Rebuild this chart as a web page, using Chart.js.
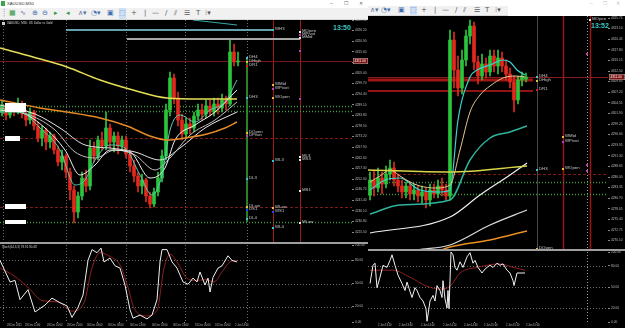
<!DOCTYPE html>
<html>
<head>
<meta charset="utf-8">
<title>XAUUSD,M30</title>
<script src="https://cdn.jsdelivr.net/npm/chart.js@4.4.1/dist/chart.umd.min.js"></script>
<style>
  html, body { margin: 0; padding: 0; background: #fff; }
  body { position: relative; width: 625px; height: 328px; overflow: hidden; font-family: 'Liberation Sans', 'DejaVu Sans', sans-serif; }
  canvas { position: absolute; display: block; background: #000; }
  .tools { position: absolute; background: #f1f1f1; border-bottom: 1px solid #d8d8d8; }
  .ic { position: absolute; top: 0; font-family: 'DejaVu Sans', sans-serif; font-size: 7px; color: #4b6ea8; }
  .txt { position: absolute; white-space: nowrap; }
  .sep { position: absolute; background: #9e9e9e; }
</style>
</head>
<body>

<!-- window chrome -->
<div class="txt" style="left:1px;top:1px;width:4px;height:5px;background:#3fa34d"></div>
<div class="txt" style="left:7px;top:0;font-size:4.2px;line-height:7px;color:#333">XAUUSD,M30</div>
<div class="txt" style="left:330px;top:0;font-size:5px;line-height:7px;color:#666">–</div>
<div class="txt" style="left:344px;top:0;font-size:5px;line-height:7px;color:#666">☐</div>
<div class="txt" style="left:359px;top:0;font-size:5px;line-height:7px;color:#666">✕</div>
<div class="txt" style="left:590px;top:0;font-size:5px;line-height:6px;color:#bbb">–</div>
<div class="txt" style="left:603px;top:0;font-size:5px;line-height:6px;color:#bbb">☐</div>
<div class="txt" style="left:616px;top:0;font-size:5px;line-height:6px;color:#bbb">✕</div>
<div class="tools" id="leftTools" style="left:0;top:8px;width:368px;height:11px"></div>
<div class="tools" id="rightTools" style="left:368px;top:6px;width:140px;height:9px"></div>

<canvas id="lMain" width="368" height="223" style="left:0;top:20px"></canvas>
<canvas id="lOsc" width="368" height="85" style="left:0;top:243px"></canvas>
<canvas id="rMain" width="257" height="235" style="left:368px;top:16px"></canvas>
<canvas id="rOsc" width="257" height="77" style="left:368px;top:251px"></canvas>

<div class="sep" style="left:0;top:242px;width:368px;height:2px"></div>
<div class="sep" style="left:368px;top:249px;width:257px;height:2px"></div>

<div class="txt" style="left:2px;top:22px;width:3px;height:3px;background:#ccc"></div>
<div class="txt" style="left:7px;top:21px;font-size:3px;line-height:5px;color:#d0d0d0">XAUUSD, M30: US Dollar vs Gold</div>
<div class="txt" style="left:2px;top:245px;font-size:3px;line-height:5px;color:#d0d0d0">Stoch(14,3,3) 78.91 80.48</div>
<div class="txt" style="left:333px;top:23px;font-size:7px;line-height:9px;font-weight:bold;color:#3cc8c8">13:50</div>
<div class="txt" style="left:591px;top:21px;font-size:7px;line-height:9px;font-weight:bold;color:#3cc8c8">13:52</div>

<script>
// ---------- left window: XAUUSD M30 ----------
const leftOpen  = [4285.5,4288.5,4284.0,4287.5,4285.5,4289.5,4284.5,4281.5,4285.5,4278.5,4272.5,4276.5,4270.5,4273.5,4266.5,4260.5,4263.5,4255.5,4246.5,4235.5,4243.5,4252.5,4248.5,4267.5,4263.5,4271.5,4268.5,4277.5,4270.5,4273.5,4268.5,4271.5,4264.5,4258.5,4253.5,4248.5,4251.5,4243.5,4239.5,4245.5,4252.5,4263.5,4286.5,4302.5,4292.5,4281.5,4274.5,4279.5,4277.5,4283.5,4286.5,4284.5,4288.5,4285.5,4289.5,4287.5,4291.5,4289.5,4315.5,4310.5];
const leftHigh  = [4291.5,4290.0,4289.5,4290.5,4292.5,4291.0,4286.5,4287.5,4286.5,4280.5,4278.5,4277.5,4275.5,4274.5,4268.5,4266.5,4264.5,4257.5,4248.5,4245.5,4255.5,4256.5,4271.5,4270.5,4273.5,4275.5,4285.5,4279.5,4275.5,4275.5,4273.5,4273.5,4266.5,4261.5,4255.5,4254.5,4252.5,4245.5,4247.5,4255.5,4266.5,4289.5,4305.5,4304.5,4295.5,4284.5,4282.5,4282.5,4285.5,4289.5,4289.5,4291.5,4291.5,4292.5,4292.5,4294.5,4293.5,4321.5,4319.5,4315.5];
const leftLow   = [4283.5,4281.5,4282.5,4283.5,4284.5,4282.5,4278.5,4279.5,4276.5,4270.5,4268.5,4266.5,4267.5,4264.5,4258.5,4256.5,4252.5,4241.5,4230.0,4232.5,4241.5,4245.5,4246.5,4260.5,4261.5,4266.5,4266.5,4267.5,4265.5,4264.5,4266.5,4262.5,4255.5,4250.5,4245.5,4244.5,4240.5,4237.5,4238.0,4243.5,4250.5,4261.5,4283.5,4289.5,4278.5,4271.5,4272.5,4274.5,4275.5,4281.5,4281.5,4282.5,4283.5,4283.5,4284.5,4285.5,4286.5,4288.5,4308.5,4308.5];
const leftClose = [4288.5,4284.0,4287.5,4285.5,4289.5,4284.5,4281.5,4285.5,4278.5,4272.5,4276.5,4270.5,4273.5,4266.5,4260.5,4263.5,4255.5,4246.5,4235.5,4243.5,4252.5,4248.5,4267.5,4263.5,4271.5,4268.5,4277.5,4270.5,4273.5,4268.5,4271.5,4264.5,4258.5,4253.5,4248.5,4251.5,4243.5,4239.5,4245.5,4252.5,4263.5,4286.5,4302.5,4292.5,4281.5,4274.5,4279.5,4277.5,4283.5,4286.5,4284.5,4288.5,4285.5,4289.5,4287.5,4291.5,4289.5,4315.5,4310.5,4311.0];

// moving averages: [bar index, price]
const leftMaYellow = [[-0.5,4317.5],[7.75,4313.0],[16.25,4308.0],[24.5,4301.5],[32.75,4296.5],[41.25,4292.5],[49.5,4292.0],[58.75,4292.0]];
const leftMaOrange = [[-0.5,4291.5],[4.5,4289.5],[9.5,4287.5],[16.25,4285.5],[24.5,4282.5],[31.25,4278.5],[37,4273.5],[41.25,4271.5],[45.75,4272.5],[51.25,4274.5],[55.75,4277.5],[58.75,4280.5]];
const leftRibbon1 = [[-0.5,4285.5],[4.5,4285.5],[9.5,4277.5],[14.5,4266.5],[18.25,4249.0],[20.75,4251.5],[23.25,4261.5],[27,4269.0],[30.75,4267.5],[34.5,4254.0],[37.5,4244.0],[40,4254.0],[42,4276.5],[44.5,4284.0],[48.25,4280.5],[52,4286.5],[55.75,4290.5],[58.75,4301.5]];
const leftRibbon2 = [[-0.5,4286.5],[5.75,4284.5],[10.75,4277.5],[15.75,4266.5],[19.5,4254.0],[23.25,4259.0],[27,4266.5],[32,4265.5],[37,4252.5],[40.75,4257.5],[43.25,4271.5],[48.25,4279.0],[53.25,4285.5],[58.75,4296.5]];
const leftRibbon3 = [[-0.5,4287.5],[7,4284.0],[13.25,4276.5],[18.25,4265.5],[23.25,4262.5],[28.25,4266.5],[33.25,4264.0],[38.25,4256.5],[42,4262.5],[47,4274.0],[53.25,4281.5],[58.75,4290.5]];
const leftRibbon4 = [[-0.5,4289.0],[8.25,4284.5],[14.5,4277.5],[20.75,4269.0],[27,4267.5],[33.25,4265.5],[39.5,4261.5],[44.5,4267.5],[50.75,4277.5],[58.75,4285.5]];

// drawn objects
const leftWeekHighLine = [[16,4326.5],[67.75,4326.5]];
const leftMonthLine    = [[31.25,4322.0],[74.5,4322.0]];
const leftTealLine     = [[47.75,4331.5],[58.75,4329.0]];
const leftDayLine      = [[61.25,4313.0],[61.25,4230.5]];
const leftBidPrice     = 4311.0;
const leftGreenDots    = [4288.5, 4286.0, 4230.5];
const leftRedDashes    = [4272.5, 4238.0];
const leftRedVerticals = [67.75, 74.5];
const leftGridSlots    = [0.25, 16, 31, 45.75, 61.25];
const leftTagPrices    = [4288.0, 4272.5, 4238.5, 4230.5];
const leftPivots = [
  ['WH3',67.75,4326.5], ['MOpen',74.5,4325.5], ['MPivot',74.5,4324.0], ['MMid',74.5,4322.5],
  ['DH4',61.25,4312.5], ['DHigh',61.25,4310.5], ['DR1',61.25,4308.5], ['',74.5,4316.0],
  ['WMid',67.75,4299.0], ['WPivot',67.75,4297.0],
  ['DH3',61.25,4292.5], ['WOpen',67.75,4292.5], ['',74.5,4292.0],
  ['DOpen',61.25,4275.0], ['DPivot',61.25,4273.5],
  ['ML3',74.5,4263.0], ['MS3',74.5,4261.5], ['WL3',67.75,4261.0],
  ['DL3',61.25,4252.0], ['MS1',74.5,4246.0],
  ['DLow',61.25,4238.0], ['DS1',61.25,4236.5], ['WLow',67.75,4237.5], ['WS1',67.75,4235.5],
  ['DL4',61.25,4232.0], ['MLow',74.5,4230.0], ['WL4',67.75,4227.5]
];
const leftPriceTicks = [4331.5,4326.2,4320.9,4315.6,4310.3,4305.0,4299.7,4294.4,4289.1,4283.8,4278.5,4273.2,4267.9,4262.6,4257.3,4252.0,4246.7,4241.4,4236.1,4230.8,4225.5];
const leftTimeSlots  = [1.25, 5.75, 11.25, 16.25, 21.25, 26.5, 32, 37.5, 42.75, 48.25, 53.25, 58.25];
const leftTimeLabels = ['29 Dec 2025','29 Dec 11:00','29 Dec 16:00','29 Dec 21:00','30 Dec 03:00','30 Dec 08:00','30 Dec 13:00','30 Dec 18:00','30 Dec 23:00','31 Dec 05:00','31 Dec 10:00','2 Jan 13:00'];

// stochastic
const leftStochMain = [[-0.5,80],[2,52],[3.25,54],[4.5,29],[6.5,42],[8.25,13],[10.75,22],[12.5,31],[14.5,25],[16.25,21],[17.5,6],[19,19],[20.25,35],[21.5,80],[22.5,94],[23.75,90],[24.75,96],[25.5,78],[27,83],[28.25,73],[29.5,70],[30.75,48],[32,16],[32.75,5],[34.5,9],[36.25,4],[37.5,9],[38.75,29],[39.5,78],[40,94],[41.25,94],[42.5,78],[43.75,70],[45.25,52],[46.5,49],[47.75,57],[48.75,52],[49.5,65],[50.75,48],[51.5,57],[52,39],[52.75,58],[54,70],[55,73],[56.5,86],[57.5,80],[58.75,78]];
const leftStochSignal = [[-0.5,70],[3,60],[6.5,45],[10,28],[14,26],[17.5,14],[20.5,25],[22.5,70],[24.5,90],[27,85],[29.5,74],[31.5,45],[33,18],[36,8],[38.75,15],[40.5,70],[42,88],[44,76],[46,58],[48.5,54],[51,55],[53,52],[55,65],[57,78],[58.75,80]];

// ---------- right window ----------
const rightOpen  = [4281.5,4285.25,4283.25,4285.75,4284.25,4286.75,4288.25,4285.25,4283.75,4282.25,4283.75,4281.75,4282.75,4281.25,4282.25,4280.25,4282.75,4281.75,4283.75,4282.75,4281.25,4320.25,4312.75,4308.25,4315.25,4321.25,4323.75,4314.75,4311.25,4314.25,4312.25,4316.25,4313.75,4315.75,4313.75,4311.75,4309.75,4305.25,4310.25,4310.5];
const rightHigh  = [4287.25,4287.75,4288.25,4287.25,4288.75,4290.25,4289.75,4286.75,4285.25,4284.75,4284.75,4284.25,4283.75,4283.75,4283.25,4284.25,4284.25,4285.25,4285.75,4284.25,4322.75,4322.25,4316.25,4317.75,4322.75,4325.25,4324.75,4316.25,4316.75,4315.75,4317.75,4317.75,4317.75,4317.25,4315.25,4313.25,4311.25,4311.25,4312.25,4312.0];
const rightLow   = [4280.25,4281.25,4282.25,4281.75,4283.25,4285.25,4283.75,4282.25,4280.75,4280.75,4280.25,4280.25,4279.75,4279.25,4278.25,4278.75,4280.75,4280.75,4281.25,4280.25,4280.25,4308.25,4306.25,4306.75,4313.75,4319.25,4312.75,4309.25,4310.25,4310.75,4311.25,4312.25,4311.75,4312.25,4310.25,4308.25,4302.25,4304.25,4308.75,4309.75];
const rightClose = [4285.25,4283.25,4285.75,4284.25,4286.75,4288.25,4285.25,4283.75,4282.25,4283.75,4281.75,4282.75,4281.25,4282.25,4280.25,4282.75,4281.75,4283.75,4282.75,4281.25,4320.25,4312.75,4308.25,4315.25,4321.25,4323.75,4314.75,4311.25,4314.25,4312.25,4316.25,4313.75,4315.75,4313.75,4311.75,4309.75,4305.25,4310.25,4311.25,4311.0];

const rightMaYellow = [[-0.5,4287.75],[20,4287.25],[39.25,4288.75]];
const rightMaBeige  = [[0,4284.75],[2.5,4286.25],[5,4287.75],[7.5,4286.25],[10,4284.75],[12.5,4283.75],[16.25,4283.25],[20,4284.0],[22.5,4292.75],[25,4302.25],[27.5,4306.5],[30,4308.75],[33.25,4310.75],[36.25,4311.25],[38.75,4311.0]];
const rightMaCyan   = [[0,4282.75],[3.75,4285.25],[7.5,4285.75],[12.5,4282.75],[17.5,4282.25],[20,4282.75],[22,4300.25],[25,4311.0],[26.75,4312.75],[30,4314.0],[33.25,4315.25],[35,4314.75],[36.75,4312.75],[38.75,4311.5]];
const rightMaTeal   = [[0,4276.75],[7.5,4279.0],[20,4280.25],[25,4290.25],[30,4295.75],[35,4297.25],[39.25,4298.75]];
const rightMaWhite1 = [[0,4272.0],[20,4276.0],[27.5,4281.5],[35,4286.5],[39.25,4289.5]];
const rightMaWhite2 = [[5,4266.25],[11.75,4267.75],[20,4269.0],[30,4274.0],[39.25,4277.75]];
const rightMaOrange = [[14.25,4266.25],[20,4268.5],[30,4270.25],[39.25,4272.5]];

const rightDayHighLine = [[-0.5,4310.25],[40.75,4310.25]];
const rightR1Line      = [[-0.5,4307.5],[40.75,4307.5]];
const rightBidPrice    = 4311.0;
const rightGreenDots   = [4284.75, 4281.75];
const rightRedDashes   = [4286.75];
const rightRedVerticals = [48.25, 55];
const rightDayVertical = [41.75];
const rightGridSlots   = [54.25];
const rightPivots = [
  ['MOpen',55,4325.25], ['',54.25,4316.75],
  ['DH4',41.75,4311.0], ['DHigh',41.75,4310.0], ['DR1',41.75,4307.75],
  ['WMid',48.25,4296.0], ['WPivot',48.25,4294.75],
  ['DH3',41.75,4287.75], ['WOpen',48.25,4288.0], ['',54.25,4289.0], ['',54.25,4287.5],
  ['DOpen',41.75,4268.0]
];
const rightPriceTicks = [4325.75,4323.10,4320.45,4317.80,4315.15,4312.50,4309.85,4307.20,4304.55,4301.90,4299.25,4296.60,4293.95,4291.30,4288.65,4286.00,4283.35,4280.70,4278.05,4275.40,4272.75,4270.10];
const rightTimeSlots  = [2, 7.25, 12.75, 18.25, 23.5, 28.5, 34, 39];
const rightTimeLabels = ['2 Jan 13:20','2 Jan 13:40','2 Jan 14:00','2 Jan 14:20','2 Jan 14:40','2 Jan 15:00','2 Jan 15:20','2 Jan 15:40'];

const rightStochMain = [[0,55],[0.75,81],[1.25,84],[1.75,49],[2.5,64],[3.25,81],[4.25,78],[5,88],[5.5,96],[6.25,81],[7,67],[8,55],[8.75,45],[9.25,57],[9.75,48],[10.5,35],[11.25,49],[11.75,45],[12.5,35],[13.25,30],[14,19],[14.25,1],[15,30],[15.75,38],[16.25,30],[16.75,52],[17.5,45],[18,35],[18.25,59],[18.75,33],[19.25,20],[19.5,45],[19.75,19],[20.25,100],[20.75,96],[21.25,78],[21.75,74],[22.5,86],[23.25,78],[24.25,93],[25,99],[25.75,84],[26.25,88],[27,78],[28,70],[28.5,74],[29.25,78],[30,81],[30.75,78],[31.75,84],[32.5,81],[33.25,83],[34.25,74],[35,70],[35.75,59],[36,52],[36.75,70],[37.5,70],[38.75,70]];
const rightStochSignal = [[0,74],[5.75,74],[10,64],[14.25,51],[17.5,47],[20,51],[22.5,70],[26.75,78],[32.5,83],[35.75,78],[38.75,74]];

const oscTicks  = [100, 80, 50, 20, 0];
const oscLevels = [80, 50, 20];

// ---------- helpers ----------
const UP = '#2bc53c', DOWN = '#e2291d';
const AXIS_FONT = { size: 3.2, family: 'Liberation Sans' };
const TIME_FONT = { size: 2.6, family: 'Liberation Sans' };

function candleSets(open, high, low, close) {
  const col = open.map((o, i) => (close[i] >= o ? UP : DOWN));
  return [
    { type: 'bar', order: 5, grouped: false, barThickness: 1, backgroundColor: col,
      data: open.map((o, i) => ({ x: i, y: [low[i], high[i]] })) },
    { type: 'bar', order: 4, grouped: false, barThickness: 3, minBarLength: 1, backgroundColor: col,
      data: open.map((o, i) => ({ x: i, y: [Math.min(o, close[i]), Math.max(o, close[i])] })) }
  ];
}

function line(points, color, width, smooth, order) {
  return {
    type: 'line', order: order || 1, data: points.map(([x, y]) => ({ x, y })),
    borderColor: color, borderWidth: width || 1, pointRadius: 0, fill: false,
    tension: 0, cubicInterpolationMode: smooth ? 'monotone' : 'default'
  };
}

function pivotColor(name) {
  if (!name) return '#c23cc2';
  if (/Pivot/.test(name)) return '#c23cc2';
  if (/^M/.test(name)) return '#e8e8e8';
  if (/^[DW][HL]\d$/.test(name)) return '#3cc4d4';
  if (/R\d$/.test(name)) return '#d42020';
  if (/S\d$/.test(name)) return '#2a3cff';
  return '#e0c03c';
}

function overlay(o) {
  return {
    id: 'mtOverlay',
    beforeDatasetsDraw(chart) {
      const { ctx, chartArea: a, scales: { x, y } } = chart;
      ctx.save();
      ctx.beginPath();
      ctx.rect(a.left, a.top, a.right - a.left, a.bottom - a.top);
      ctx.clip();
      const stroke = (x1, y1, x2, y2, s) => {
        ctx.strokeStyle = s.color; ctx.lineWidth = s.width || 1; ctx.setLineDash(s.dash || []);
        ctx.beginPath(); ctx.moveTo(x1, y1); ctx.lineTo(x2, y2); ctx.stroke();
      };
      (o.vLines || []).forEach(s => s.at.forEach(v => {
        const px = Math.round(x.getPixelForValue(v)) + 0.5;
        stroke(px, a.top, px, a.bottom, s);
      }));
      (o.hLines || []).forEach(s => s.at.forEach(v => {
        const py = Math.round(y.getPixelForValue(v)) + 0.5;
        stroke(a.left, py, a.right, py, s);
      }));
      ctx.restore();
    },
    afterDatasetsDraw(chart) {
      const { ctx, chartArea: a, scales: { x, y } } = chart;
      ctx.save();
      (o.tags || []).forEach((p, i) => {
        const py = Math.round(y.getPixelForValue(p));
        const w = o.tagW[i], h = o.tagH[i];
        ctx.fillStyle = '#ffffff';
        ctx.fillRect(a.left + 5, py - Math.floor(h / 2), w, h);
      });
      ctx.font = '4.3px "Liberation Sans"';
      ctx.textBaseline = 'middle';
      (o.pivots || []).forEach(([name, slot, price]) => {
        const px = Math.round(x.getPixelForValue(slot));
        const py = Math.round(y.getPixelForValue(price));
        ctx.fillStyle = pivotColor(name);
        ctx.fillRect(px - 1, py - 1, 2, 2);
        if (name) {
          ctx.fillStyle = '#c8c8c8';
          ctx.fillText(name, px + 2, py - 1);
        }
      });
      if (o.bid !== undefined) {
        const py = Math.round(y.getPixelForValue(o.bid));
        ctx.fillStyle = '#7d1212';
        ctx.fillRect(a.right + 1, py - 3, chart.width - a.right - 1, 6);
        ctx.strokeStyle = '#b0b0b0'; ctx.lineWidth = 0.5;
        ctx.strokeRect(a.right + 1.25, py - 2.75, chart.width - a.right - 1.5, 5.5);
        ctx.fillStyle = '#ffffff';
        ctx.font = '3.2px "Liberation Sans"';
        ctx.fillText(o.bid.toFixed(2), a.right + 2.5, py);
      }
      ctx.restore();
    }
  };
}

function valueAxis(min, max, ticks, width, digits) {
  return {
    type: 'linear', position: 'right', min, max,
    afterBuildTicks: s => { s.ticks = ticks.map(v => ({ value: v })); },
    afterFit: s => { s.width = width; s.paddingTop = 0; s.paddingBottom = 0; },
    grid: { drawOnChartArea: false, drawTicks: true, tickLength: 2, color: '#8a8a8a' },
    border: { display: false },
    ticks: { color: '#bdbdbd', font: AXIS_FONT, padding: 1, callback: v => v.toFixed(digits) }
  };
}

function hiddenX(min, max) {
  return { type: 'linear', display: false, min, max, offset: false };
}

function timeAxis(min, max, slots, labels, height) {
  return {
    type: 'linear', position: 'bottom', min, max, offset: false,
    afterBuildTicks: s => { s.ticks = slots.map(v => ({ value: v })); },
    afterFit: s => { s.height = height; s.paddingLeft = 0; s.paddingRight = 0; },
    grid: { drawOnChartArea: false, drawTicks: true, tickLength: 1, color: '#8a8a8a' },
    border: { display: false },
    ticks: { align: 'start', autoSkip: false, maxRotation: 0, padding: 0.5, color: '#bdbdbd', font: TIME_FONT,
             callback: (v, i) => labels[i] }
  };
}

function mtChart(id, datasets, scales, ov, padding) {
  return new Chart(document.getElementById(id), {
    type: 'bar',
    data: { datasets },
    options: {
      responsive: false, animation: false, devicePixelRatio: 1, events: [],
      layout: { padding: padding || 0 },
      plugins: { legend: { display: false }, tooltip: { enabled: false } },
      scales
    },
    plugins: [overlay(ov)]
  });
}

const GRID = { color: '#6e6e6e', dash: [1, 2], width: 1 };
const LEFT_X = [-0.5, 87.5], RIGHT_X = [-0.5, 59.5];

// ---------- left main ----------
mtChart('lMain', [
  line(leftMaYellow, '#e6df55', 1.5, true),
  line(leftMaOrange, '#e48a26', 1.5, true),
  line(leftRibbon1, '#5cc9b5', 1, true),
  line(leftRibbon2, '#f2f2f2', 1, true),
  line(leftRibbon3, '#bdbdbd', 1, true),
  line(leftRibbon4, '#e6e6e6', 1, true),
  line(leftWeekHighLine, '#86d4e6', 1.5, false, 6),
  line(leftMonthLine, '#a8a8a8', 2, false, 6),
  line(leftTealLine, '#3aa6a6', 1, false, 6),
  line(leftDayLine, '#2f8f2f', 1, false, 6),
  ...candleSets(leftOpen, leftHigh, leftLow, leftClose)
], {
  x: hiddenX(...LEFT_X),
  y: valueAxis(4220.0, 4331.5, leftPriceTicks, 16, 2)
}, {
  vLines: [
    { at: leftGridSlots, ...GRID },
    { at: leftRedVerticals, color: '#a31818', width: 1 }
  ],
  hLines: [
    { at: [leftBidPrice], color: '#7a1515', width: 1 },
    { at: leftGreenDots, color: '#3b9b3b', dash: [1, 2], width: 1.5 },
    { at: leftRedDashes, color: '#7a1a1a', dash: [3, 2], width: 1 }
  ],
  tags: leftTagPrices, tagW: [21, 15, 21, 21], tagH: [9, 5, 5, 4],
  pivots: leftPivots,
  bid: leftBidPrice
});

// ---------- left oscillator ----------
mtChart('lOsc', [
  line(leftStochMain, '#f0f0f0', 1, false),
  line(leftStochSignal, '#8e2020', 1, true, 2)
], {
  x: timeAxis(...LEFT_X, leftTimeSlots, leftTimeLabels, 6),
  y: valueAxis(0, 100, oscTicks, 16, 2)
}, {
  vLines: [{ at: leftGridSlots, ...GRID }],
  hLines: [{ at: oscLevels, ...GRID }]
}, { top: 2 });

// ---------- right main ----------
mtChart('rMain', [
  line(rightMaYellow, '#d9d54a', 1.5, true),
  line(rightMaBeige, '#e6c48e', 1, true),
  line(rightMaCyan, '#3fd0d0', 1.2, true),
  line(rightMaTeal, '#2fb39c', 1.5, true),
  line(rightMaWhite1, '#f0f0f0', 1.2, true),
  line(rightMaWhite2, '#dcdcdc', 1.2, true),
  line(rightMaOrange, '#ea8f22', 1.5, true),
  line(rightDayHighLine, '#a31616', 3, false, 6),
  line(rightR1Line, '#c21b1b', 1.5, false, 6),
  ...candleSets(rightOpen, rightHigh, rightLow, rightClose)
], {
  x: hiddenX(...RIGHT_X),
  y: valueAxis(4267.5, 4326.25, rightPriceTicks, 17, 2)
}, {
  vLines: [
    { at: rightGridSlots, ...GRID, color: '#9a9a9a' },
    { at: rightDayVertical, color: '#4a4a4a', width: 1 },
    { at: rightRedVerticals, color: '#9a1414', width: 1.5 }
  ],
  hLines: [
    { at: [rightBidPrice], color: '#8b1a1a', width: 1 },
    { at: rightGreenDots, color: '#3b9b3b', dash: [1, 2], width: 1.5 },
    { at: rightRedDashes, color: '#7a1a1a', dash: [3, 2], width: 1 }
  ],
  pivots: rightPivots,
  bid: rightBidPrice
});

// ---------- right oscillator ----------
mtChart('rOsc', [
  line(rightStochMain, '#f0f0f0', 1, false),
  line(rightStochSignal, '#8e2020', 1, true, 2)
], {
  x: timeAxis(...RIGHT_X, rightTimeSlots, rightTimeLabels, 6),
  y: valueAxis(0, 100, oscTicks, 17, 2)
}, {
  vLines: [{ at: rightGridSlots, ...GRID, color: '#9a9a9a' }],
  hLines: [{ at: oscLevels, ...GRID }]
}, { top: 1 });

// ---------- toolbars ----------
function fillTools(id, icons) {
  const bar = document.getElementById(id);
  icons.forEach(([glyph, left, color, hi]) => {
    const s = document.createElement('span');
    s.className = 'ic';
    s.textContent = glyph;
    s.style.left = left + 'px';
    s.style.color = color;
    s.style.lineHeight = bar.style.height;
    if (hi) s.style.background = '#cfe0f5';
    bar.appendChild(s);
  });
}
fillTools('leftTools', [
  ['┊', 2, '#888'], ['▦', 9, '#3a9a4a'], ['∿', 20, '#7a5aa0'], ['⊕', 32, '#3d6fb0'], ['⊖', 42, '#3d6fb0'],
  ['▸', 54, '#2e9a40'], ['◂', 66, '#2e9a40'], ['∧▾', 78, '#5a6fa0'], ['◔▾', 91, '#3d6fb0'], ['▣', 107, '#3d6fb0'],
  ['⬚', 119, '#3d6fb0', true], ['+', 131, '#555'], ['|', 144, '#555'], ['—', 152, '#555'], ['/', 165, '#555'],
  ['⫽', 174, '#555'], ['☰', 184, '#555'], ['T', 196, '#555'], ['⁝▾', 205, '#555']
]);
fillTools('rightTools', [
  ['∧▾', 2, '#5a6fa0'], ['◔▾', 13, '#3d6fb0'], ['▣', 30, '#3d6fb0'], ['⬚', 42, '#3d6fb0', true],
  ['+', 53, '#555'], ['|', 66, '#555'], ['—', 74, '#555'], ['/', 87, '#555'], ['⫽', 95, '#555'],
  ['☰', 106, '#555'], ['T', 117, '#555'], ['⁝▾', 127, '#555']
]);
</script>
</body>
</html>
